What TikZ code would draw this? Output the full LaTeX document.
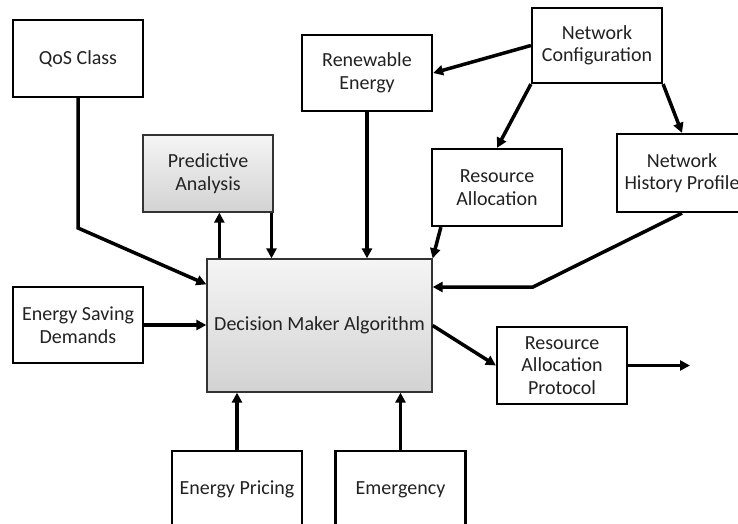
\documentclass[tikz,border=0pt]{standalone}
\usepackage{fontspec}
\setmainfont{Carlito}
\usetikzlibrary{arrows.meta, positioning}
\definecolor{txtgray}{RGB}{34,34,34}

\begin{document}
\begin{tikzpicture}[
    x=1pt, y=-1pt,
    box/.style={draw, line width=2.2pt, fill=white, minimum width=130pt, minimum height=77pt, inner sep=2pt, align=center, text=txtgray, font=\fontsize{20}{22.5}\selectfont},
    shaded/.style={box, line width=1.3pt, draw=black!80, top color=gray!8, bottom color=gray!35},
    arr/.style={-{Triangle[length=10pt,width=10pt]}, line width=3.5pt}
  ]
    \clip (0,0) rectangle (738,524);
    \fill[white] (0,0) rectangle (738,524);
    % input boxes
    \node[box] (qos) at (78,58.5) {QoS Class};
    \node[box, minimum height=76pt] (renew) at (367,73) {Renewable\\Energy};
    \node[box, minimum height=75pt] (netconf) at (597,45.5) {Network\\Configuration};
    \node[box] (resalloc) at (497,187.5) {Resource\\Allocation};
    \node[box, minimum height=78pt] (nethist) at (682,173) {Network\\History Profile};
    \node[shaded] (pred) at (208,173.5) {Predictive\\Analysis};
    \node[shaded, minimum width=225pt, minimum height=133pt] (dma) at (319.5,325.5) {Decision Maker Algorithm};
    \node[box, minimum height=76pt] (esd) at (78,325) {Energy Saving\\Demands};
    \node[box] (price) at (237,489.5) {Energy Pricing};
    \node[box] (emerg) at (400.5,489.5) {Emergency};
    \node[box] (rap) at (562,365.5) {Resource\\Allocation\\Protocol};
    \coordinate (qbend) at (78,228);
    \coordinate (hbend) at (533,287);
    \coordinate (out) at (690,365.5);
    % connectors
    \draw[arr] (qos.south) -- (qbend) -- ([yshift=-26pt]dma.north west);
    \draw[arr] ([xshift=13pt]dma.north west) -- ([xshift=13pt]dma.north west |- pred.south);
    \draw[arr] ([xshift=-48pt]dma.north |- pred.south) -- ([xshift=-48pt]dma.north);
    \draw[arr] (renew.south) -- (renew.south |- dma.north);
    \draw[arr] (netconf.west) -- (renew.east);
    \draw[arr] (netconf.south west) -- (resalloc.north);
    \draw[arr] (netconf.south east) -- (nethist.north);
    \draw[arr] ([xshift=10pt]resalloc.south west) -- (dma.north east);
    \draw[arr] (nethist.south) -- (hbend) -- (hbend -| dma.east);
    \draw[arr] (esd.east) -- (esd.east -| dma.west);
    \draw[arr] (dma.east) -- (rap.west);
    \draw[arr] (price.north) -- (price.north |- dma.south);
    \draw[arr] (emerg.north) -- (emerg.north |- dma.south);
    \draw[arr] (rap.east) -- (out);
  \end{tikzpicture}
\end{document}
